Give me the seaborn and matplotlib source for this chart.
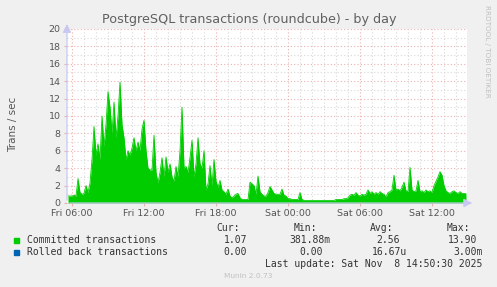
import matplotlib
matplotlib.use("Agg")
import matplotlib.pyplot as plt
import seaborn as sns
import numpy as np
import pandas as pd

# ---- data (10-minute samples, Fri 05:35 -> Sat 14:55) ----
committed = [
    0.8, 0.8, 0.8, 0.9, 0.8, 2.8, 1.2, 1.0, 1.1, 2.0,
    1.2, 2.3, 5.0, 8.8, 5.5, 6.8, 5.0, 10.0, 6.5, 9.0,
    12.8, 11.0, 8.0, 11.6, 7.5, 10.0, 13.9, 9.0, 7.5, 5.0,
    6.0, 5.5, 6.3, 7.5, 6.0, 7.0, 6.0, 8.5, 9.5, 6.0,
    4.0, 3.8, 3.8, 7.8, 3.5, 2.3, 3.5, 5.2, 3.0, 5.3,
    3.5, 4.5, 3.0, 2.5, 4.2, 3.0, 6.0, 11.0, 4.0, 4.2,
    3.5, 5.2, 7.2, 3.0, 4.5, 7.5, 4.5, 4.0, 6.0, 1.5,
    2.2, 4.3, 2.0, 5.0, 2.5, 1.8, 2.6, 1.5, 1.3, 1.0,
    1.6, 0.8, 0.6, 0.8, 1.0, 1.1, 0.6, 0.4, 0.4, 0.4,
    0.4, 2.4, 2.2, 2.0, 1.0, 3.1, 1.3, 1.0, 0.8, 0.8,
    1.2, 1.9, 1.5, 1.1, 1.0, 1.0, 1.0, 1.6, 0.9, 0.8,
    0.5, 0.5, 0.4, 0.4, 0.4, 0.4, 1.2, 0.4, 0.3, 0.3,
    0.3, 0.3, 0.3, 0.3, 0.3, 0.3, 0.3, 0.3, 0.3, 0.3,
    0.3, 0.3, 0.3, 0.3, 0.4, 0.4, 0.4, 0.4, 0.5, 0.5,
    0.6, 0.9, 1.0, 0.9, 1.2, 0.9, 0.8, 1.0, 0.9, 1.0,
    1.5, 1.1, 1.3, 1.0, 1.2, 1.0, 1.3, 1.1, 1.0, 0.7,
    1.2, 1.3, 1.5, 3.2, 1.5, 1.6, 1.4, 1.8, 2.4, 1.4,
    1.3, 4.1, 1.5, 1.3, 1.4, 2.6, 1.3, 1.4, 1.2, 1.5,
    1.3, 1.4, 1.2, 2.0, 2.5, 3.0, 3.6, 3.2, 2.0, 1.4,
    1.2, 1.1, 1.3, 1.4, 1.2, 1.1, 1.3, 1.1, 1.1, 1.07,
]
rolledback = [0.0] * len(committed)

start_hour = 5 + 35 / 60          # Fri 05:35, hours since Fri 00:00
step_hours = 10 / 60
xtick_hours = [6, 12, 18, 24, 30, 36]
xtick_labels = ["Fri 06:00", "Fri 12:00", "Fri 18:00", "Sat 00:00", "Sat 06:00", "Sat 12:00"]
yticks = list(range(0, 21, 2))

series_names = ["Committed transactions", "Rolled back transactions"]
series_colors = ["#00CC00", "#0066B3"]
stat_cur = ["1.07", "0.00"]
stat_min = ["381.88m", "0.00"]
stat_avg = ["2.56", "16.67u"]
stat_max = ["13.90", "3.00m"]

hours = start_hour + step_hours * (np.arange(len(committed)) + 0.5)
df = pd.DataFrame({"hour": hours, "committed": committed, "rolledback": rolledback})

# ---- figure ----
sns.set_style("white")
W, H = 497, 287
fig = plt.figure(figsize=(W / 100, H / 100), dpi=100, facecolor="#F0F0F0")
ax = fig.add_axes([67 / W, 1 - 203 / H, 400 / W, 174 / H])
ax.set_facecolor("white")

x_end = start_hour + step_hours * len(committed)
ax.set_xlim(start_hour, x_end)
ax.set_ylim(0, 20)

# grid
for h in np.arange(6, x_end, 1):
    major = (h % 6 == 0)
    ax.axvline(h, color="#ECB0B0" if major else "#D8D8D8", lw=0.8,
               ls=(0, (1, 2)), zorder=0)
for v in range(1, 21):
    major = (v % 2 == 0)
    ax.axhline(v, color="#ECB0B0" if major else "#D8D8D8", lw=0.8,
               ls=(0, (1, 2)), zorder=0)

# data
ax.fill_between(df["hour"], df["committed"], color=series_colors[0], lw=0, zorder=2)
sns.lineplot(data=df, x="hour", y="committed", color=series_colors[0], lw=0.6,
             ax=ax, zorder=3)
sns.lineplot(data=df, x="hour", y="rolledback", color=series_colors[1], lw=0.6,
             ax=ax, zorder=3)

for s in ax.spines.values():
    s.set_visible(False)

ax.set_xticks(xtick_hours)
ax.set_xticklabels(xtick_labels)
ax.set_yticks(yticks)
ax.set_yticklabels([str(v) for v in yticks])
ax.tick_params(axis="both", labelsize=6.8, labelcolor="#555555", length=2.5,
               color="#ECB0B0", pad=2, width=0.8)
ax.tick_params(axis="y", left=True)
ax.tick_params(axis="x", bottom=True)
ax.set_xlabel("")
ax.set_ylabel("Trans / sec", fontsize=7.5, color="#555555")
ax.yaxis.set_label_coords((18 - 67) / 400, 0.45)

# axis lines with arrows
ax.annotate("", xy=(0, 1.045), xytext=(0, 0), xycoords="axes fraction",
            arrowprops=dict(arrowstyle="-|>,head_width=0.25,head_length=0.5",
                            color="#C8C8F0", lw=0.9), annotation_clip=False)
ax.annotate("", xy=(1.02, 0), xytext=(0, 0), xycoords="axes fraction",
            arrowprops=dict(arrowstyle="-|>,head_width=0.25,head_length=0.5",
                            color="#C8C8F0", lw=0.9), annotation_clip=False)


def fx(px):
    return px / W


def fy(py):
    return 1 - py / H


fig.text(fx(249), fy(19), "PostgreSQL transactions (roundcube) - by day",
         ha="center", va="center", fontsize=9.2, color="#606060")
fig.text(fx(487), fy(5), "RRDTOOL / TOBI OETIKER", rotation=270,
         ha="center", va="top", fontsize=5.2, color="#C0C0C0")

mono = "DejaVu Sans Mono"
fs = 7.0
tc = "#333333"
for lab, xr in zip(["Cur:", "Min:", "Avg:", "Max:"], [240, 317, 393, 470]):
    fig.text(fx(xr), fy(228), lab, ha="right", va="center", family=mono,
             fontsize=fs, color=tc)

rows_y = [240, 252]
for i, name in enumerate(series_names):
    y = rows_y[i]
    fig.patches.append(plt.Rectangle((fx(14), fy(y) - 2.5 / H), 5 / W, 5 / H,
                                     transform=fig.transFigure,
                                     color=series_colors[i], figure=fig))
    fig.text(fx(27), fy(y), name, ha="left", va="center", family=mono,
             fontsize=fs, color=tc)

col_right = [[247, 247], [330, 323], [400, 407], [477, 483]]
cols = [stat_cur, stat_min, stat_avg, stat_max]
for c, vals in enumerate(cols):
    for i, v in enumerate(vals):
        fig.text(fx(col_right[c][i]), fy(rows_y[i]), v, ha="right", va="center",
                 family=mono, fontsize=fs, color=tc)

fig.text(fx(482), fy(264), "Last update: Sat Nov  8 14:50:30 2025",
         ha="right", va="center", family=mono, fontsize=fs, color=tc)
fig.text(fx(248), fy(276), "Munin 2.0.73", ha="center", va="center",
         fontsize=5.3, color="#C0C0C0")

fig.savefig("out.png", dpi=100, facecolor=fig.get_facecolor())
